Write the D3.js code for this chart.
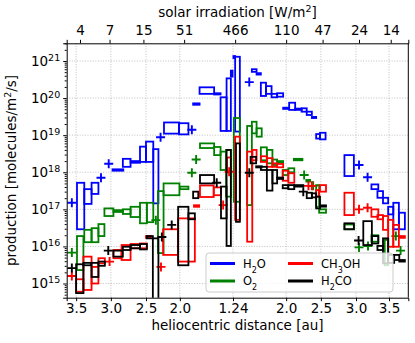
<!DOCTYPE html>
<html>
<head>
<meta charset="utf-8">
<script src="https://cdn.jsdelivr.net/npm/d3@7"></script>
<style>
body { margin: 0; background: #fff; }
svg { font-family: "DejaVu Sans", sans-serif; }
</style>
</head>
<body>
<svg id="chart" width="415" height="343"></svg>
<script>
// x: days from perihelion, y: production [molecules/m2/s]
var bottomTickDays = [-366, -285, -203, -124, 0, 124, 205, 287, 364];
var bottomTickLabels = ["3.5", "3.0", "2.5", "2.0", "1.24", "2.0", "2.5", "3.0", "3.5"];
var topTickDays = [-357, -288, -209, -114, 5, 124, 209, 294, 368];
var topTickLabels = ["4", "7", "15", "51", "466", "110", "47", "24", "14"];
var yTicks = [1e15, 1e16, 1e17, 1e18, 1e19, 1e20, 1e21];

// boxes: [day start, day end, low, high]
var h2oBoxes = [
  [-364,-347,2.9e16,5.2e17], [-347,-330,1.4e17,3.5e17], [-330,-314,2.6e17,5.2e17],
  [-281,-256,1.1e18,1.2e18], [-257,-239,1.4e18,2.3e18], [-239,-217,1.8e18,2.0e18],
  [-217,-203,1.9e18,4.9e18], [-203,-186,1.9e18,6.7e18], [-186,-174,1.45e17,4.2e18],
  [-161,-126,1.1e19,2.2e19], [-126,-104,1.05e19,2.1e19], [-93,-78,6.6e19,7.2e19],
  [-78,-44,1.3e20,1.95e20], [-44,-29,1.25e20,1.35e20], [-29,-15,1.3e19,1.05e20],
  [-15,-5,1.3e19,3.4e20], [-5,-1,3.8e20,5.5e20], [1,5,1.2e21,1.36e21],
  [5,16,1.25e19,1.3e21], [44,55,5.1e20,6.0e20], [55,65,4.3e20,4.7e20],
  [65,77,1.14e20,2.6e20], [77,90,1.3e20,2.1e20], [90,103,1.05e20,1.3e20],
  [103,117,1.09e20,1.35e20], [117,131,5.1e19,5.5e19], [131,145,4.8e19,7.5e19],
  [145,160,4.8e19,5.2e19], [160,172,4.3e19,5.3e19], [172,184,3.5e19,4.3e19],
  [184,194,2.9e19,3.1e19], [194,203,8.1e18,1.07e19], [203,216,7.7e18,1.16e19],
  [260,282,7.9e17,2.9e18], [323,339,3.5e17,4.7e17], [337,350,2.05e17,3.1e17],
  [350,362,1.45e17,2.05e17], [362,374,7.3e16,1.17e17], [374,387,2.9e16,1.5e17],
  [387,401,2.9e16,8.1e16]
];
var h2oPoints = [[-376,1.5e17], [-308,7.1e17], [-290,1.7e18], [-169,8.8e18], [-96,1.4e19],
  [38,2.7e20], [294,1.57e18], [314,7.3e17]];

var o2Boxes = [
  [-364,-349,2.3e15,1.9e16], [-347,-330,1.3e16,2.8e16], [-330,-314,1.3e16,3.1e16],
  [-314,-300,1.9e16,4.0e16], [-300,-279,6.6e16,1.06e17], [-279,-257,8.5e16,9.5e16],
  [-257,-239,7.5e16,1.0e17], [-239,-217,6.2e16,1.17e17], [-217,-201,4.2e16,1.5e17],
  [-201,-186,4.5e16,1.5e17], [-175,-162,6.6e15,3.1e17], [-162,-125,2.4e17,5.0e17],
  [-124,-104,3.5e17,4.1e17], [-77,-44,4.5e18,6.0e18], [-44,-29,2.9e18,4.8e18],
  [-29,-16,1.15e18,3.6e18], [-16,-5,2.2e17,4.0e18], [2,16,1.6e17,2.9e19],
  [33,44,1.3e17,1.77e19], [44,55,1.12e19,2.3e19], [55,67,9.1e18,1.53e19],
  [65,79,2.1e18,4.7e18], [79,92,1.74e18,4.0e18], [92,103,1.57e18,2.2e18],
  [103,117,1.8e18,2.0e18], [116,129,8.4e17,1.15e18], [129,143,1.0e18,1.28e18],
  [142,162,2.1e18,2.3e18], [171,180,5.6e17,6.2e17], [194,201,1.17e17,4.5e17],
  [201,217,8.1e16,1.0e17], [260,282,2.9e16,3.9e16], [323,339,1.34e16,2.0e16],
  [354,362,3.1e15,1.5e16]
];
var o2Points = [[-376,6.8e15], [-180,5.1e16], [-96,9.7e17], [-86,2.2e18], [166,8.4e17],
  [187,4.3e17], [294,9.4e15], [315,1.03e16], [380,1.9e16], [391,7.7e15]];

var ch3ohBoxes = [
  [-366,-349,6.0e14,1.3e15], [-349,-330,6.7e14,5.3e15], [-330,-314,1.0e15,2.8e15],
  [-314,-299,3.5e15,4.8e15], [-279,-260,4.8e15,8.0e15], [-260,-239,4.3e15,1.09e16],
  [-239,-217,8.9e15,1.16e16], [-217,-201,8.9e15,1.2e16], [-203,-192,1.7e16,1.9e16],
  [-163,-128,5.9e15,2.9e16], [-128,-89,3.9e15,5.7e16], [-91,-79,1.17e17,1.29e17],
  [-77,-45,2.15e17,4.4e17], [-45,-28,2.4e17,3.9e17], [-14,-5,1.0e18,2.5e18],
  [5,16,5.2e16,9.1e18], [33,45,1.34e16,3.6e18], [45,55,2.1e18,4.0e18],
  [65,79,1.9e18,2.7e18], [79,92,1.4e18,2.4e18], [92,103,1.4e18,1.74e18],
  [103,117,1.36e18,1.67e18], [116,129,5.9e17,1.1e18], [129,143,5.2e17,9.4e17],
  [194,201,2.2e17,3.3e17], [203,217,3.0e17,4.5e17], [260,282,7.0e16,2.8e17],
  [323,339,6.3e16,1.0e17], [337,350,5.4e16,7.0e16], [350,362,2.8e16,6.6e16],
  [362,374,9.8e15,5.2e16], [374,387,9.8e15,3.8e16], [387,401,1.7e16,1.9e16]
];
var ch3ohPoints = [[-376,1.6e15], [-288,3.9e15], [-168,2.8e15], [-23,1.3e17], [-9,1.03e18],
  [176,4.3e17], [184,4.3e17], [294,1.0e17], [314,1.1e17]];

var h2coBoxes = [
  [-366,-349,5.5e14,3.3e15], [-349,-331,3.1e15,3.6e15], [-330,-314,1.5e15,3.6e15],
  [-314,-299,3.0e15,3.9e15], [-279,-257,5.3e15,7.7e15], [-257,-239,8.0e15,9.8e15],
  [-239,-217,8.9e15,1.09e16], [-217,-201,8.3e15,1.16e16], [-201,-187,1.65e16,1.9e16],
  [-187,-174,2.6e14,1.65e16], [-128,-104,3.1e15,1.17e17], [-104,-89,5.4e16,7.8e16],
  [-93,-81,2.0e17,3.0e17], [-77,-44,5.0e17,8.4e17], [-28,-15,5.7e16,4.1e17],
  [-15,-5,1.03e16,4.0e18], [7,16,4.6e16,6.0e18], [41,54,1.74e18,2.6e18],
  [54,67,1.35e18,1.45e18], [65,79,1.15e18,1.4e18], [79,92,3.2e17,1.15e18],
  [92,103,5.0e17,1.15e18], [103,117,6.6e17,7.2e17], [116,129,3.7e17,4.5e17],
  [129,143,3.5e17,4.5e17], [143,164,4.1e17,4.5e17], [172,184,2.0e17,2.8e17],
  [184,194,2.1e17,2.7e17], [194,203,1.06e17,2.2e17], [203,217,1.18e17,1.28e17],
  [260,282,2.9e16,4.2e16], [304,324,1.09e16,4.8e16], [324,339,1.2e16,1.9e16],
  [337,350,8.0e15,1.03e16], [350,362,3.5e15,1.65e16], [362,376,3.6e15,5.9e15],
  [376,388,4.3e15,5.9e15], [388,401,3.9e15,4.3e15]
];
var h2coPoints = [[-376,2.6e15], [-291,7.7e15], [-166,1.8e16], [-143,3.8e16], [-38,5.2e17],
  [38,9.7e17], [164,3.0e17], [293,1.44e16]];

var species = [
  {sub: ["H", "2", "O"], color: "#0000ff", boxes: h2oBoxes, points: h2oPoints},
  {sub: ["O", "2", ""], color: "#008000", boxes: o2Boxes, points: o2Points},
  {sub: ["CH", "3", "OH"], color: "#ff0000", boxes: ch3ohBoxes, points: ch3ohPoints},
  {sub: ["H", "2", "CO"], color: "#000000", boxes: h2coBoxes, points: h2coPoints}
];

var margin = {top: 43.3, right: 6.7, bottom: 45.3, left: 66.7};
var width = 415 - margin.left - margin.right;
var height = 343 - margin.top - margin.bottom;

var svg = d3.select("#chart");
var g = svg.append("g").attr("transform", "translate(" + margin.left + "," + margin.top + ")");

var x = d3.scaleLinear().domain([-388, 409]).range([0, width]);
var y = d3.scaleLog().domain([4.14e14, 3.0e21]).range([height, 0]);

// grid
g.append("g").selectAll("line").data(bottomTickDays).enter().append("line")
  .attr("x1", d => x(d)).attr("x2", d => x(d))
  .attr("y1", 0).attr("y2", height)
  .attr("stroke", "#b0b0b0").attr("stroke-width", 0.8).attr("stroke-dasharray", "1,1.6");
g.append("g").selectAll("line").data(yTicks).enter().append("line")
  .attr("x1", 0).attr("x2", width)
  .attr("y1", d => y(d)).attr("y2", d => y(d))
  .attr("stroke", "#b0b0b0").attr("stroke-width", 0.8).attr("stroke-dasharray", "1,1.6");

g.append("clipPath").attr("id", "clip")
  .append("rect").attr("width", width).attr("height", height);

var plot = g.append("g").attr("clip-path", "url(#clip)");

species.forEach(function (s) {
  plot.append("g").selectAll("rect").data(s.boxes).enter().append("rect")
    .attr("x", d => x(d[0]))
    .attr("width", d => x(d[1]) - x(d[0]))
    .attr("y", d => y(d[3]))
    .attr("height", d => y(d[2]) - y(d[3]))
    .attr("fill", "none")
    .attr("stroke", s.color)
    .attr("stroke-width", 1.8);
  plot.append("g").selectAll("path").data(s.points).enter().append("path")
    .attr("d", function (d) {
      var px = x(d[0]), py = y(d[1]);
      return "M" + (px - 4.5) + "," + py + "H" + (px + 4.5) + "M" + px + "," + (py - 4.5) + "V" + (py + 4.5);
    })
    .attr("stroke", s.color)
    .attr("stroke-width", 1.9);
});

// axes
var xBottom = d3.axisBottom(x).tickValues(bottomTickDays)
  .tickFormat((d, i) => bottomTickLabels[i]).tickSize(3.5).tickPadding(2.5);
var xTop = d3.axisTop(x).tickValues(topTickDays)
  .tickFormat((d, i) => topTickLabels[i]).tickSize(3.5).tickPadding(4.8);

var bx = g.append("g").attr("transform", "translate(0," + height + ")").call(xBottom);
var tx = g.append("g").call(xTop);

var minorTicks = y.ticks().filter(d => yTicks.indexOf(d) < 0);
g.append("g").call(d3.axisLeft(y).tickValues(minorTicks).tickFormat("").tickSize(2))
  .select(".domain").remove();
var ly = g.append("g").call(d3.axisLeft(y).tickValues(yTicks).tickSize(3.5).tickPadding(3));
ly.selectAll(".tick text").each(function (d) {
  var t = d3.select(this).text("");
  t.append("tspan").text("10");
  t.append("tspan").attr("baseline-shift", "super").attr("font-size", "9.5px")
    .text(Math.round(Math.log10(d)));
});

[bx, tx, ly].forEach(function (a) {
  a.selectAll("text").attr("font-size", "13.5px").attr("font-family", "DejaVu Sans").attr("fill", "#000");
  a.selectAll("line").attr("stroke", "#000");
  a.select(".domain").attr("stroke", "#000");
});
ly.selectAll(".tick text tspan:nth-child(2)").attr("font-size", "9.5px");

g.append("line").attr("x1", width).attr("x2", width).attr("y1", 0).attr("y2", height)
  .attr("stroke", "#000");

// axis labels
svg.append("text").attr("x", margin.left + width / 2).attr("y", 330)
  .attr("text-anchor", "middle").attr("font-size", "13.5px")
  .text("heliocentric distance [au]");

var topLabel = svg.append("text").attr("x", margin.left + width / 2).attr("y", 17)
  .attr("text-anchor", "middle").attr("font-size", "13.5px");
topLabel.append("tspan").text("solar irradiation [W/m");
topLabel.append("tspan").attr("baseline-shift", "super").attr("font-size", "9.5px").text("2");
topLabel.append("tspan").text("]");

var yLabel = svg.append("text")
  .attr("transform", "translate(16," + (margin.top + height / 2) + ") rotate(-90)")
  .attr("text-anchor", "middle").attr("font-size", "13.5px");
yLabel.append("tspan").text("production [molecules/m");
yLabel.append("tspan").attr("baseline-shift", "super").attr("font-size", "9.5px").text("2");
yLabel.append("tspan").text("/s]");

// legend
var legend = svg.append("g").attr("transform", "translate(206,253)");
legend.append("rect").attr("width", 187).attr("height", 39).attr("rx", 3)
  .attr("fill", "#fff").attr("fill-opacity", 0.8).attr("stroke", "#cccccc");
species.forEach(function (s, i) {
  var col = Math.floor(i / 2), row = i % 2;
  var lx = 4 + col * 78, ly2 = 10.5 + row * 17.5;
  legend.append("line").attr("x1", lx).attr("x2", lx + 25).attr("y1", ly2).attr("y2", ly2)
    .attr("stroke", s.color).attr("stroke-width", 3);
  var t = legend.append("text").attr("x", lx + 33).attr("y", ly2 + 4.3).attr("font-size", "11.5px");
  t.append("tspan").text(s.sub[0]);
  t.append("tspan").attr("baseline-shift", "sub").attr("font-size", "8px").text(s.sub[1]);
  t.append("tspan").text(s.sub[2]);
});
</script>
</body>
</html>
